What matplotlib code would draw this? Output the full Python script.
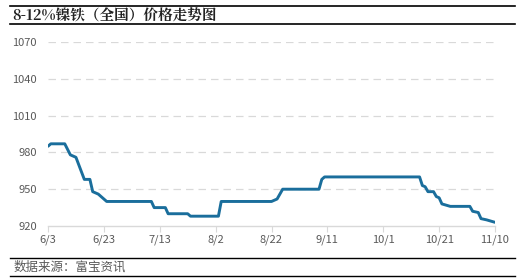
import numpy as np
import pandas as pd
import matplotlib
matplotlib.use("Agg")
import matplotlib.pyplot as plt
from matplotlib.lines import Line2D

plt.rcParams['font.family'] = ['Noto Sans CJK SC', 'DejaVu Sans']

# -------------------------
# 数据（从图上读取的转折点）
# -------------------------
dates = ["06-03", "06-04", "06-09", "06-11", "06-13", "06-16", "06-18", "06-19",
         "06-21", "06-24", "07-10", "07-11", "07-15", "07-16", "07-23", "07-24",
         "08-03", "08-04", "08-22", "08-24", "08-26", "09-08", "09-09", "09-10",
         "10-14", "10-15", "10-16", "10-17", "10-19", "10-20", "10-21", "10-22",
         "10-25", "11-01", "11-02", "11-04", "11-05", "11-07", "11-10"]
prices = [985, 987, 987, 978, 976, 958, 958, 948,
          946, 940, 940, 935, 935, 930, 930, 928,
          928, 940, 940, 942, 950, 950, 958, 960,
          960, 953, 952, 948, 948, 944, 943, 938,
          936, 936, 932, 931, 926, 925, 923]
tick_dates = ["06-03", "06-23", "07-13", "08-02", "08-22", "09-11", "10-01", "10-21", "11-10"]
tick_labels = ["6/3", "6/23", "7/13", "8/2", "8/22", "9/11", "10/1", "10/21", "11/10"]
y_ticks = [920, 950, 980, 1010, 1040, 1070]

title = "8-12%镍铁（全国）价格走势图"
source = "数据来源：富宝资讯"

x = pd.to_datetime(["2023-" + d for d in dates])
xt = pd.to_datetime(["2023-" + d for d in tick_dates])

fig = plt.figure(figsize=(5.25, 2.79), dpi=100)
ax = fig.add_axes([48 / 525, 1 - 226 / 279, (495 - 48) / 525, (226 - 42) / 279])

ax.plot(x, prices, color='#1a6e9c', lw=2.1, solid_capstyle='round', solid_joinstyle='round')

ax.set_xlim(xt[0], xt[-1])
ax.set_ylim(920, 1070)
ax.set_yticks(y_ticks)
ax.set_xticks(xt)
ax.set_xticklabels(tick_labels)
ax.yaxis.grid(True, color='#d9d9d9', ls=(0, (6, 4)), lw=0.9)
ax.set_axisbelow(True)
for s in ['top', 'right', 'left']:
    ax.spines[s].set_visible(False)
ax.spines['bottom'].set_color('#d9d9d9')
ax.spines['bottom'].set_linewidth(1)
ax.tick_params(axis='y', length=0, pad=8, labelsize=8, labelcolor='#595959')
ax.tick_params(axis='x', length=4, color='#d9d9d9', pad=2, labelsize=8, labelcolor='#595959')
ax.yaxis.get_gridlines()[0].set_visible(False)

# 标题与上下横线
fig.add_artist(Line2D([10 / 525, 515 / 525], [1 - 6 / 279] * 2, color='black', lw=1.2))
fig.add_artist(Line2D([10 / 525, 515 / 525], [1 - 24 / 279] * 2, color='black', lw=1.2))
fig.text(12 / 525, 1 - 21 / 279, title, fontsize=10.5, fontweight='bold', color='#222222',
         va='baseline', ha='left', family=['Noto Serif CJK SC', 'Noto Sans CJK SC', 'DejaVu Serif'])

# 数据来源
fig.add_artist(Line2D([10 / 525, 515 / 525], [1 - 258 / 279] * 2, color='black', lw=1.0))
fig.add_artist(Line2D([10 / 525, 515 / 525], [1 - 276 / 279] * 2, color='black', lw=1.0))
fig.text(14 / 525, 1 - 267.5 / 279, source, fontsize=9, color='#595959', va='center', ha='left')

fig.savefig("out.png", dpi=100)
